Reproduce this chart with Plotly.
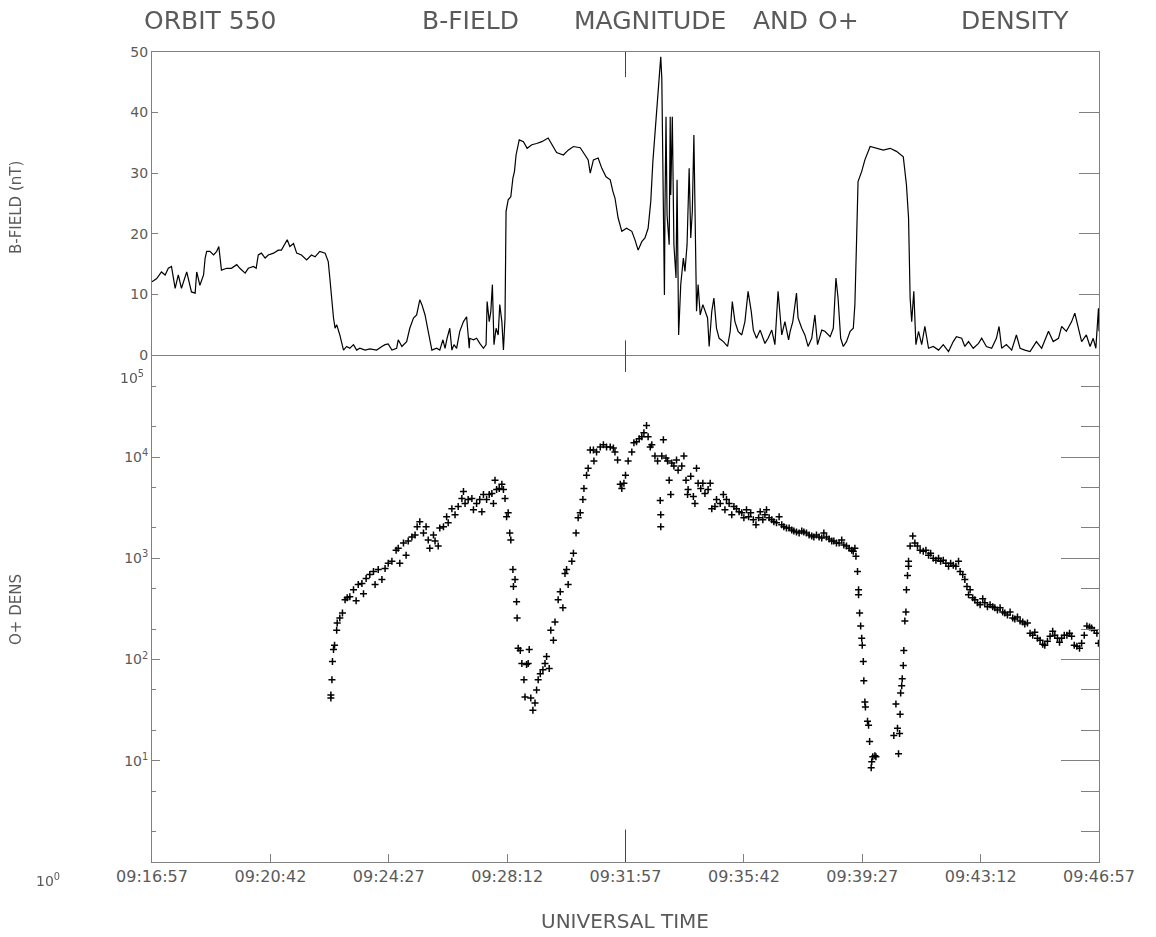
import plotly.graph_objects as go

# ---------------- data ----------------
# time axis: seconds after 09:16:57 UT
TICK_SECONDS = [0, 225, 450, 675, 900, 1125, 1350, 1575, 1800]
TICK_LABELS = ["09:16:57", "09:20:42", "09:24:27", "09:28:12", "09:31:57",
               "09:35:42", "09:39:27", "09:43:12", "09:46:57"]

# B-field magnitude (nT)
b_time = [0, 9, 18, 25, 31, 37, 44, 50, 56, 66, 75, 82, 85, 91, 98, 101, 104, 110, 117, 123,
          127, 131, 132, 142, 151, 161, 167, 177, 183, 193, 198, 202, 208, 215, 221, 231, 240, 246, 253, 257,
          262, 269, 275, 284, 294, 303, 310, 319, 329, 335, 338, 341, 345, 348, 351, 357, 364, 370, 376, 383,
          389, 395, 405, 414, 427, 437, 443, 449, 456, 465, 468, 475, 484, 490, 497, 503, 509, 513, 519, 525,
          532, 541, 547, 553, 557, 561, 566, 570, 574, 579, 585, 592, 598, 603,
          604, 611, 617, 623, 630, 635, 637, 641, 644, 647, 650, 654, 658, 661, 665, 668, 671, 673, 677, 682,
          686, 689, 692, 698, 706, 713, 722, 731, 741, 753, 760, 769, 782, 791, 801, 814, 823, 829, 833, 839,
          848, 855, 863, 871, 876, 880, 886, 893, 902, 912, 918, 924, 931, 937, 943, 948, 952, 956, 961, 964,
          967, 969, 971, 974, 975, 977, 979, 983, 985, 986, 989, 992, 996, 998, 1001, 1005, 1010, 1013, 1017, 1021,
          1024, 1027, 1030, 1033, 1035, 1038, 1042, 1047, 1051, 1056, 1059, 1064, 1068, 1073, 1078, 1086, 1094, 1099, 1103, 1108,
          1114, 1121, 1127, 1133, 1139, 1143, 1149, 1156, 1165, 1171, 1178, 1184, 1190, 1197, 1203, 1210,
          1213, 1218, 1225, 1228, 1235, 1241, 1247, 1254, 1260, 1265, 1273, 1279, 1289, 1295, 1300, 1304, 1309, 1314, 1320, 1327,
          1333, 1336, 1339, 1342, 1349, 1355, 1365, 1377, 1390, 1403, 1415, 1428, 1434, 1438, 1441, 1444, 1448, 1452, 1457, 1463,
          1469, 1476, 1485, 1495, 1504, 1514, 1523, 1529, 1539, 1545, 1552, 1561, 1571, 1577, 1586, 1596, 1605, 1610, 1615, 1624,
          1634, 1643, 1650, 1659, 1669, 1681, 1691, 1704, 1713, 1723, 1729, 1738, 1748, 1754, 1761, 1767, 1776, 1783, 1789, 1794,
          1799, 1800]
b_field = [12.1, 12.6, 13.7, 13.2, 14.3, 14.6, 11.0, 13.2, 11.0, 13.7, 10.4, 10.2, 13.7, 11.5, 13.2, 16.0, 17.1, 17.1, 16.5, 17.1,
           17.9, 14.9, 14.0, 14.3, 14.3, 14.9, 14.3, 13.5, 14.3, 14.6, 14.3, 16.5, 16.8, 16.0, 16.5, 16.8, 17.3, 17.3, 18.4, 19.0,
           17.9, 18.4, 16.8, 16.5, 15.7, 16.5, 16.2, 17.1, 16.8, 15.4, 12.7, 9.4, 6.1, 4.4, 5.0, 3.3, 0.8, 1.4, 1.1, 1.7,
           0.8, 1.1, 0.8, 1.0, 0.8, 1.4, 1.7, 1.8, 0.8, 1.1, 2.5, 1.4, 2.2, 4.4, 6.1, 6.6, 9.1, 8.3, 6.6, 3.9,
           0.8, 1.1, 0.8, 2.5, 1.1, 2.8, 4.4, 0.8, 1.7, 1.1, 3.9, 5.5, 6.3, 1.1,
           2.75, 2.5, 2.75, 1.9, 1.1, 1.7, 8.8, 5.5, 7.2, 11.6, 1.7, 4.4, 3.3, 8.3, 5.5, 0.8, 6.1, 23.7, 25.6, 26.1,
           29.2, 30.3, 33.0, 35.5, 35.2, 34.1, 34.7, 34.9, 35.2, 35.8, 34.7, 33.4, 33.0, 33.8, 34.4, 34.2, 33.0, 32.2, 30.0, 32.2,
           32.5, 30.8, 29.4, 28.9, 27.0, 25.9, 22.6, 20.4, 20.9, 20.4, 19.0, 17.3, 18.7, 19.3, 20.9, 25.3, 31.9, 36.3, 41.8, 45.7,
           49.2, 45.7, 29.2, 9.9, 23.7, 39.3, 23.1, 18.2, 39.3, 26.4, 39.3, 18.2, 12.7, 28.9, 3.3, 11.6, 16.0, 13.8, 18.2, 30.8,
           19.3, 23.7, 36.3, 18.2, 7.2, 11.6, 6.6, 8.3, 7.2, 6.1, 1.4, 7.2, 9.4, 4.4, 2.75, 2.2, 1.4, 3.9, 8.8, 5.5,
           3.9, 3.3, 5.5, 10.5, 7.2, 4.1, 2.75, 4.1, 1.9, 2.75, 4.1, 1.7, 10.5, 3.3, 5.5, 2.5,
           3.9, 5.5, 10.2, 6.1, 4.4, 3.3, 1.4, 2.75, 6.6, 1.7, 4.1, 3.9, 3.0, 4.4, 12.7, 9.4, 2.75, 1.4, 2.2, 3.9,
           4.4, 8.3, 18.2, 28.6, 30.3, 32.2, 34.4, 34.1, 33.8, 34.1, 33.6, 32.7, 28.1, 22.6, 9.4, 5.5, 10.5, 1.7, 3.9, 1.7,
           4.7, 1.1, 1.4, 0.8, 1.7, 0.55, 2.2, 3.0, 2.75, 1.4, 2.2, 1.1, 1.9, 2.75, 1.4, 1.1, 2.75, 4.7, 1.1, 1.7,
           0.8, 3.3, 1.1, 0.8, 0.55, 2.2, 1.1, 3.9, 2.2, 2.75, 4.7, 3.9, 5.5, 6.9, 4.4, 2.2, 3.3, 1.4, 2.75, 1.1,
           7.7, 3.9]

# O+ density, log10(cm^-3)
o_time = [340, 340, 342, 343, 345, 347, 351, 352, 357, 362, 367, 371, 376, 383, 388, 392, 399, 402, 407, 414,
          421, 424, 430, 437, 443, 449, 456, 464, 468, 471, 478, 483, 487, 494, 500, 504, 509, 516, 521, 525,
          528, 535, 538, 544, 547, 554, 560, 563, 570, 576, 582, 589, 592, 595, 601, 608, 611, 617, 623, 627,
          630, 636, 641, 646, 649, 652, 655, 660, 665, 668, 671, 674, 677, 680, 682, 686, 690, 687, 693, 694,
          696, 700, 703, 707, 709, 712, 715, 717, 720, 724, 728, 731, 734, 738, 743, 747, 750, 755, 758, 763,
          766, 772, 776, 781, 785, 788, 791, 798, 801, 806, 810, 814, 819, 821, 826, 829, 833, 839, 840, 845,
          852, 858, 864, 871, 877, 880, 885, 890, 893, 897, 900, 905,
          912, 916, 921, 926, 931, 935, 940, 943, 947, 950, 956, 961, 966, 967, 967, 969, 972, 977, 980, 983,
          986, 988, 992, 997, 1000, 1007, 1011, 1015, 1018, 1019, 1024, 1029, 1032, 1035, 1038, 1043, 1047, 1051, 1057, 1061,
          1064, 1070, 1073, 1080, 1086, 1089, 1092, 1097, 1102, 1106, 1111, 1116, 1121, 1125, 1130, 1134, 1138, 1143, 1148, 1153,
          1156, 1161, 1165, 1168, 1173, 1178, 1182, 1187, 1192, 1197, 1201, 1206, 1211, 1216, 1220, 1225, 1230, 1235, 1239, 1244,
          1249, 1254, 1258, 1263, 1268, 1273, 1277, 1282, 1287, 1292, 1296, 1301, 1306, 1311, 1315, 1320, 1325, 1330, 1333, 1336,
          1338, 1341, 1343, 1343, 1345, 1347, 1349, 1350, 1352, 1353, 1355, 1356, 1360, 1362, 1364, 1367, 1368, 1370, 1374, 1376,
          1410, 1414, 1417, 1419, 1421, 1422, 1423, 1425, 1426, 1428, 1429, 1431, 1433, 1434, 1436, 1438, 1438, 1441, 1446, 1450,
          1455, 1460, 1466, 1471, 1476, 1480, 1485, 1490, 1495, 1499, 1504, 1509, 1514, 1518, 1523, 1528, 1533, 1536, 1541, 1545,
          1549, 1552, 1555, 1560, 1564, 1569, 1574, 1579, 1583, 1588, 1593, 1598, 1602, 1607, 1612, 1617, 1621, 1626, 1631, 1636,
          1640, 1645, 1650, 1655, 1659, 1664, 1669, 1674, 1678, 1683, 1688, 1693, 1697, 1702, 1707, 1712, 1716, 1721, 1725, 1729,
          1734, 1739, 1744, 1748, 1753, 1758, 1763, 1767, 1772, 1777, 1782, 1786, 1791, 1796, 1799]
o_log_density = [1.62, 1.65, 1.80, 1.98, 2.10, 2.14, 2.29, 2.36, 2.41, 2.46, 2.59, 2.61, 2.62, 2.69, 2.58, 2.74, 2.75, 2.65, 2.80, 2.84,
                 2.87, 2.74, 2.89, 2.79, 2.90, 2.95, 2.97, 3.08, 3.10, 2.95, 3.15, 3.03, 3.17, 3.21, 3.23, 3.31, 3.36, 3.25, 3.31, 3.18,
                 3.10, 3.23, 3.17, 3.12, 3.30, 3.31, 3.41, 3.35, 3.49, 3.43, 3.51, 3.59, 3.66, 3.54, 3.58, 3.59, 3.48, 3.54, 3.58, 3.46,
                 3.63, 3.58, 3.63, 3.64, 3.54, 3.77, 3.68, 3.69, 3.73, 3.68, 3.59, 3.41, 3.45, 3.25, 3.18, 2.89, 2.79, 2.72, 2.57, 2.41,
                 2.11, 2.09, 1.96, 1.80, 1.63, 1.95, 1.96, 2.10, 1.62, 1.50, 1.57, 1.70, 1.80, 1.86, 1.90, 1.96, 2.03, 1.91, 2.29, 2.19,
                 2.37, 2.59, 2.67, 2.51, 2.85, 2.89, 2.74, 2.97, 3.05, 3.25, 3.40, 3.45, 3.58, 3.69, 3.82, 3.89, 4.07, 4.07, 3.96, 4.05,
                 4.10, 4.12, 4.10, 4.10, 4.09, 4.05, 3.97, 3.73, 3.69, 3.74, 3.82, 3.96,
                 4.05, 4.14, 4.15, 4.18, 4.20, 4.24, 4.31, 4.20, 4.10, 4.12, 4.01, 3.96, 3.57, 3.43, 3.31, 4.01, 4.17, 3.99, 3.96, 3.77,
                 3.63, 3.94, 3.91, 3.97, 3.87, 3.91, 4.01, 3.77, 3.63, 3.68, 3.81, 3.61, 3.54, 3.89, 3.74, 3.69, 3.74, 3.64, 3.68, 3.74,
                 3.49, 3.51, 3.58, 3.54, 3.63, 3.48, 3.58, 3.54, 3.43, 3.51, 3.49, 3.46, 3.45, 3.40, 3.48, 3.41, 3.45, 3.38, 3.33, 3.40,
                 3.46, 3.38, 3.43, 3.48, 3.40, 3.38, 3.36, 3.35, 3.41, 3.33, 3.31, 3.30, 3.30, 3.28, 3.27, 3.26, 3.25, 3.27, 3.26, 3.25,
                 3.23, 3.22, 3.21, 3.23, 3.21, 3.20, 3.25, 3.21, 3.19, 3.17, 3.17, 3.15, 3.15, 3.18, 3.13, 3.12, 3.10, 3.08, 3.07, 3.10,
                 3.02, 2.87, 2.69, 2.64, 2.46, 2.33, 2.21, 2.14, 1.98, 1.79, 1.58, 1.53, 1.39, 1.35, 1.19, 0.93, 0.99, 1.04, 1.05, 1.04,
                 1.25, 1.56, 1.32, 1.07, 1.27, 1.46, 1.67, 1.74, 1.81, 1.94, 2.09, 2.38, 2.47, 2.69, 2.83, 2.92, 2.97, 3.12, 3.22, 3.15,
                 3.12, 3.08, 3.07, 3.08, 3.03, 3.05, 3.00, 2.98, 3.00, 2.97, 2.98, 2.95, 2.92, 2.95, 2.93, 2.92, 2.97, 2.87, 2.84, 2.79,
                 2.72, 2.64, 2.69, 2.61, 2.59, 2.56, 2.54, 2.60, 2.56, 2.52, 2.54, 2.52, 2.51, 2.49, 2.51, 2.47, 2.46, 2.44, 2.47, 2.41,
                 2.40, 2.42, 2.38, 2.37, 2.35, 2.36, 2.26, 2.24, 2.27, 2.21, 2.19, 2.15, 2.14, 2.18, 2.23, 2.28, 2.24, 2.21, 2.17, 2.21,
                 2.24, 2.24, 2.26, 2.23, 2.14, 2.13, 2.11, 2.16, 2.24, 2.33, 2.32, 2.31, 2.29, 2.26, 2.16]

B_TICKS = [0, 10, 20, 30, 40, 50]
B_TICK_TEXT = ["0", "10", "20", "30", "40", "50"]
DENS_TICKS = [10, 100, 1000, 10000]
DENS_TICK_TEXT = ["10<sup>1</sup>", "10<sup>2</sup>", "10<sup>3</sup>", "10<sup>4</sup>"]
CENTER_TIME = 900

o_density = [10 ** v for v in o_log_density]

# ---------------- figure ----------------
FONT = "DejaVu Sans"
TXT = "#5a5a5a"
AX = "#808080"

# plot frame target in page pixels: x 152..1099, y 52..862 (body margin removed)
L, R, T, B = 152, 57, 52, 75

def px_x(p):
    return (p - L) / (1156 - L - R)

def px_y(p):
    return (937 - B - p) / (937 - T - B)

fig = go.Figure()
fig.add_trace(go.Scatter(x=b_time, y=b_field, mode="lines",
                         line=dict(color="black", width=1.2), xaxis="x", yaxis="y",
                         showlegend=False, hoverinfo="skip"))
fig.add_trace(go.Scatter(x=o_time, y=o_density, mode="markers",
                         marker=dict(symbol="cross-thin", size=5, color="black",
                                     line=dict(color="black", width=1.5)),
                         xaxis="x2", yaxis="y2", showlegend=False, hoverinfo="skip"))
# invisible copies so the right-hand tick axes are drawn
fig.add_trace(go.Scatter(x=b_time, y=b_field, mode="lines", opacity=0,
                         line=dict(width=0), xaxis="x", yaxis="y3",
                         showlegend=False, hoverinfo="skip"))
fig.add_trace(go.Scatter(x=o_time, y=o_density, mode="markers", opacity=0,
                         xaxis="x2", yaxis="y4", showlegend=False, hoverinfo="skip"))

top_dom = [0.626, 1.0]
bot_dom = [0.0, 0.625]

common_x = dict(range=[0, 1800], showgrid=False, zeroline=False, showline=True,
                linecolor=AX, linewidth=1, mirror=True)

fig.update_layout(
    width=1156, height=937,
    paper_bgcolor="white", plot_bgcolor="white",
    margin=dict(l=L, r=R, t=T, b=B, autoexpand=False),
    font=dict(family=FONT, color=TXT),
    hovermode=False,
    xaxis=dict(**common_x, domain=[0, 1], anchor="y", showticklabels=False, ticks=""),
    xaxis2=dict(**common_x, domain=[0, 1], anchor="y2", tickmode="array",
                tickvals=TICK_SECONDS, ticktext=TICK_LABELS, ticks="inside",
                ticklen=8, tickcolor=AX, tickfont=dict(size=16, color=TXT)),
    yaxis=dict(domain=top_dom, anchor="x", range=[0, 50], tickvals=B_TICKS,
               ticktext=B_TICK_TEXT, ticks="inside", ticklen=6, tickcolor=AX,
               showgrid=False, zeroline=False, showline=True, linecolor=AX,
               tickfont=dict(size=14, color=TXT)),
    yaxis3=dict(domain=top_dom, anchor="x", overlaying="y", side="right",
                range=[0, 50], tickvals=[10, 20, 30, 40], ticks="inside",
                ticklen=20, tickcolor=AX, showticklabels=False, showgrid=False,
                zeroline=False, showline=True, linecolor=AX),
    yaxis2=dict(domain=bot_dom, anchor="x2", type="log", range=[0, 5],
                tickvals=DENS_TICKS, ticktext=DENS_TICK_TEXT, ticks="inside",
                ticklen=8, tickcolor=AX, showgrid=False, zeroline=False,
                showline=True, linecolor=AX, tickfont=dict(size=14, color=TXT),
                minor=dict(ticks="inside", ticklen=4, tickcolor=AX, showgrid=False)),
    yaxis4=dict(domain=bot_dom, anchor="x2", overlaying="y2", side="right",
                type="log", range=[0, 5], tickvals=[1, 10, 100, 1000, 10000, 100000],
                ticks="inside", ticklen=38, tickcolor=AX, showticklabels=False,
                showgrid=False, zeroline=False, showline=True, linecolor=AX,
                minor=dict(ticks="inside", ticklen=18, tickcolor=AX, showgrid=False)),
)

# central time marks on the frames
fig.add_shape(type="line", xref="x", yref="paper", x0=CENTER_TIME, x1=CENTER_TIME,
              y0=0.969, y1=1.0, line=dict(color="#444", width=1))
fig.add_shape(type="line", xref="x", yref="paper", x0=CENTER_TIME, x1=CENTER_TIME,
              y0=0.605, y1=0.644, line=dict(color="#444", width=1))
fig.add_shape(type="line", xref="x", yref="paper", x0=CENTER_TIME, x1=CENTER_TIME,
              y0=0.0, y1=0.04, line=dict(color="#444", width=1))

# title words (centres in page pixels)
title_words = [("ORBIT 550", 210), ("B-FIELD", 470), ("MAGNITUDE", 650),
               ("AND", 780), ("O+", 838), ("DENSITY", 1015)]
for word, px in title_words:
    fig.add_annotation(text=word, xref="paper", yref="paper",
                       x=px_x(px), y=px_y(20),
                       xanchor="center", yanchor="middle", showarrow=False,
                       font=dict(size=25, color=TXT, family=FONT))

fig.add_annotation(text="UNIVERSAL TIME", xref="paper", yref="paper", x=px_x(625),
                   y=px_y(921), xanchor="center", yanchor="middle",
                   showarrow=False, font=dict(size=20, color=TXT))
fig.add_annotation(text="B-FIELD (nT)", xref="paper", yref="paper",
                   x=px_x(16), y=px_y(208), textangle=-90,
                   xanchor="center", yanchor="middle", showarrow=False,
                   font=dict(size=15, color=TXT))
fig.add_annotation(text="O+ DENS", xref="paper", yref="paper",
                   x=px_x(16), y=px_y(610), textangle=-90,
                   xanchor="center", yanchor="middle", showarrow=False,
                   font=dict(size=15, color=TXT))
fig.add_annotation(text="10<sup>5</sup>", xref="paper", yref="paper",
                   x=px_x(146), y=px_y(377),
                   xanchor="right", yanchor="middle", showarrow=False,
                   font=dict(size=14, color=TXT))
fig.add_annotation(text="10<sup>0</sup>", xref="paper", yref="paper",
                   x=px_x(62), y=px_y(880),
                   xanchor="right", yanchor="middle", showarrow=False,
                   font=dict(size=14, color=TXT))

fig.write_html("out.html", config={"displayModeBar": False},
               post_script="document.body.style.margin='0';")
